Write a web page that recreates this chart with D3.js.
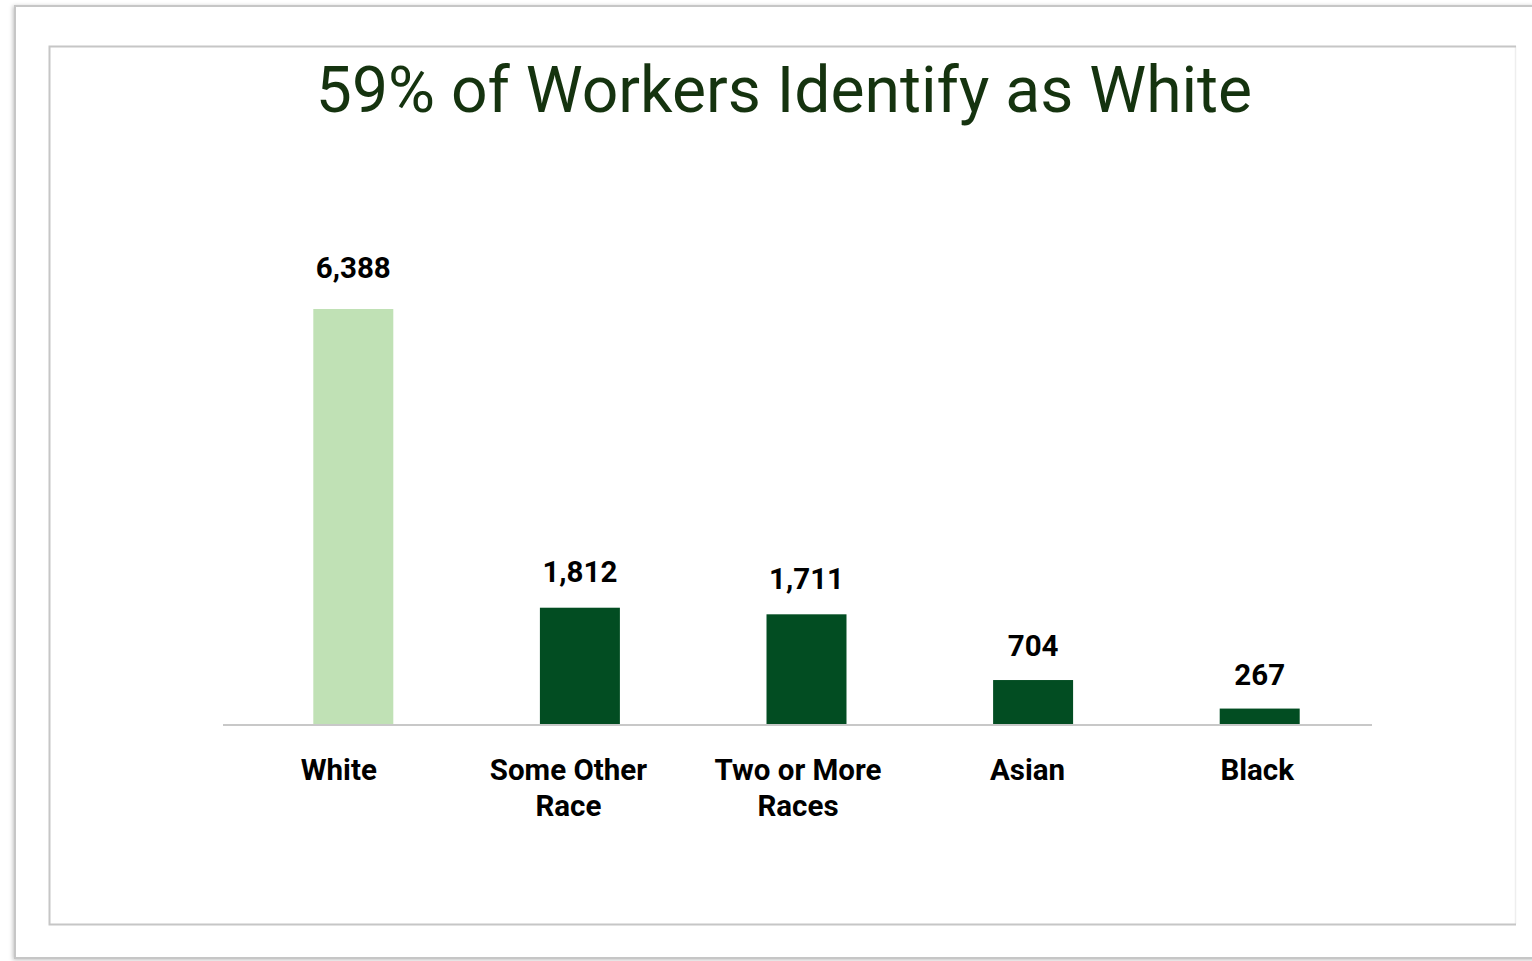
<!DOCTYPE html>
<html>
<head>
<meta charset="utf-8">
<script src="https://cdn.jsdelivr.net/npm/d3@7"></script>
<style>
  html, body { margin: 0; padding: 0; background: #fff; }
  svg { display: block; }
  text { font-family: Roboto, "Noto Sans", sans-serif; }
</style>
</head>
<body>
<svg id="chart" width="1532" height="961"></svg>
<script>
const title = "59% of Workers Identify as White";
const categories = ["White", "Some Other Race", "Two or More Races", "Asian", "Black"];
const categoryLines = [["White"], ["Some Other", "Race"], ["Two or More", "Races"], ["Asian"], ["Black"]];
const values = [6388, 1812, 1711, 704, 267];
const highlight = ["White"];

const svg = d3.select("#chart");

// outer frame with soft shadow
const defs = svg.append("defs");
const f = defs.append("filter").attr("id", "sh").attr("x", "-5%").attr("y", "-5%").attr("width", "110%").attr("height", "110%");
f.append("feDropShadow").attr("dx", -1).attr("dy", 1).attr("stdDeviation", 2).attr("flood-color", "#000").attr("flood-opacity", 0.25);

svg.append("rect").attr("x", 15).attr("y", 6).attr("width", 1540).attr("height", 952)
  .attr("fill", "#fff").attr("stroke", "#c6c6c6").attr("stroke-width", 2).attr("filter", "url(#sh)");

// inner frame
svg.append("rect").attr("x", 49.5).attr("y", 46).attr("width", 1466).attr("height", 878)
  .attr("fill", "#fff").attr("stroke", "none");
svg.append("path").attr("d", "M1515.5,46 V924").attr("stroke", "#eeeeee").attr("stroke-width", 1.5).attr("fill", "none");
svg.append("path").attr("d", "M1516,46.5 H49.5 V924.5 H1516").attr("stroke", "#c6c6c6").attr("stroke-width", 2).attr("fill", "none");

// title
svg.append("text").attr("x", 784).attr("y", 112).attr("text-anchor", "middle")
  .attr("font-size", 64.2).attr("fill", "#15330f").text(title);

// scales
const xLabel = d3.scaleBand().domain(categories).range([224, 1372]);
const xBar = d3.scaleBand().domain(categories).range([240, 1373]).paddingInner(0.647).paddingOuter(0.3235);
const y = d3.scaleLinear().domain([0, 6388]).range([726, 309]);
const yLabel = d3.scaleLinear().domain([0, 6388]).range([703, 278]);

// bars
svg.append("g").selectAll("rect").data(categories).join("rect")
  .attr("x", d => xBar(d))
  .attr("width", xBar.bandwidth())
  .attr("y", (d, i) => y(values[i]))
  .attr("height", (d, i) => y(0) - y(values[i]))
  .attr("fill", d => highlight.includes(d) ? "#c0e1b5" : "#024d22");

// baseline
svg.append("line").attr("x1", 223).attr("x2", 1372).attr("y1", 725).attr("y2", 725)
  .attr("stroke", "#c8c8c8").attr("stroke-width", 2);

// value labels
svg.append("g").selectAll("text").data(categories).join("text")
  .attr("x", d => xBar(d) + xBar.bandwidth() / 2)
  .attr("y", (d, i) => yLabel(values[i]))
  .attr("text-anchor", "middle").attr("font-size", 29.5).attr("font-weight", 700).attr("fill", "#000")
  .text((d, i) => d3.format(",")(values[i]));

// category labels
const lbl = svg.append("g").selectAll("text").data(categories).join("text")
  .attr("x", d => xLabel(d) + xLabel.bandwidth() / 2)
  .attr("y", 780)
  .attr("text-anchor", "middle").attr("font-size", 29.5).attr("font-weight", 700).attr("fill", "#000");
lbl.selectAll("tspan").data((d, i) => categoryLines[i]).join("tspan")
  .attr("x", function() { return d3.select(this.parentNode).attr("x"); })
  .attr("dy", (d, j) => j === 0 ? 0 : 36)
  .text(d => d);
</script>
</body>
</html>
